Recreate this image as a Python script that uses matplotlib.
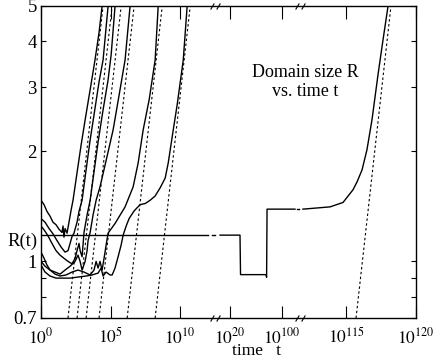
import numpy as np
import matplotlib
matplotlib.use("Agg")
import matplotlib.pyplot as plt
from matplotlib.ticker import FixedLocator, NullFormatter
from matplotlib.path import Path
import matplotlib.transforms as mtransforms

plt.rcParams['font.family'] = ['Liberation Serif', 'DejaVu Serif']
plt.rcParams['mathtext.fontset'] = 'stix'

# ---- data: x = log10(time), y = R ----
c1_x = [0, 0.22, 0.43, 0.65, 0.86, 1.08, 1.29, 1.51, 1.58, 1.65, 1.73, 1.87, 2.01, 2.16, 2.30, 2.59, 2.88, 3.17, 3.53, 3.88, 4.17, 4.39]
c1_y = [1.47, 1.43, 1.37, 1.33, 1.28, 1.26, 1.225, 1.20, 1.25, 1.165, 1.23, 1.195, 1.28, 1.38, 1.47, 1.75, 2.08, 2.44, 2.95, 3.56, 4.23, 5.0]

c2_x = [0, 0.29, 0.58, 0.86, 1.15, 1.44, 1.73, 1.94, 2.09, 2.23, 2.37, 2.59, 2.73, 2.95, 3.24, 3.53, 3.81, 4.17, 4.46, 4.82]
c2_y = [1.31, 1.28, 1.23, 1.19, 1.14, 1.095, 1.06, 1.07, 1.12, 1.17, 1.195, 1.28, 1.37, 1.47, 1.78, 2.15, 2.52, 3.10, 3.56, 5.0]

c3_x = [0, 0.22, 0.50, 0.79, 1.08, 1.37, 1.65, 1.94, 2.23, 2.45, 2.59, 2.73, 2.81, 2.95, 3.02, 3.09, 3.31, 3.53, 3.81, 4.10, 4.46, 4.82, 5.04, 5.32]
c3_y = [1.25, 1.22, 1.175, 1.12, 1.07, 1.04, 1.02, 1.00, 0.985, 1.02, 1.07, 1.12, 1.07, 1.03, 1.11, 1.20, 1.34, 1.47, 1.76, 2.12, 2.60, 3.14, 3.68, 5.0]

c4_x = [0, 0.29, 0.65, 1.01, 1.37, 1.73, 2.09, 2.45, 2.66, 2.81, 2.95, 3.17, 3.31, 3.38, 3.53, 3.74, 3.96, 4.24, 4.68, 5.18, 5.61, 6.04, 6.40]
c4_y = [1.0, 0.97, 0.947, 0.935, 0.923, 0.947, 0.97, 1.0, 1.04, 1.0, 0.947, 1.0, 1.07, 1.14, 1.20, 1.34, 1.47, 1.60, 1.89, 2.29, 2.85, 3.56, 5.0]

c5_x = [0, 0.22, 0.43, 0.65, 1.01, 1.37, 1.80, 2.23, 2.66, 3.09, 3.53, 3.81, 3.96, 4.10, 4.24, 4.39, 4.53, 4.68, 4.82, 5.32, 6.04, 6.62, 6.98, 7.34, 7.77, 8.20, 8.42]
c5_y = [1.06, 1.02, 0.977, 0.947, 0.923, 0.912, 0.918, 0.935, 0.947, 0.935, 0.918, 0.947, 1.0, 0.959, 1.0, 0.947, 1.02, 1.11, 1.195, 1.27, 1.41, 1.60, 1.86, 2.29, 2.77, 3.56, 5.0]

c6_x = [0, 0.29, 0.65, 1.08, 1.51, 2.09, 2.66, 3.24, 3.67, 4.10, 4.32, 4.46, 4.68, 4.96, 5.11, 5.32, 5.54, 5.76, 5.90, 6.12, 6.33, 6.69, 7.12, 7.48, 7.84, 8.20, 8.56, 8.92, 9.14, 9.50, 9.78, 10.22, 10.50]
c6_y = [0.977, 0.935, 0.912, 0.90, 0.90, 0.90, 0.906, 0.912, 0.918, 0.929, 0.959, 0.912, 0.935, 0.918, 0.918, 0.959, 1.03, 1.11, 1.18, 1.25, 1.31, 1.375, 1.43, 1.44, 1.47, 1.51, 1.59, 1.69, 1.86, 2.29, 2.68, 3.56, 5.0]

# long-lived run (pieces separated at the axis breaks)
c7a_x = [0, 12.0]
c7a_y = [1.18, 1.18]
c7b_x = [12.28, 12.5]
c7b_y = [1.18, 1.18]
c7c_x = [15.0, 35.4, 36.2, 75.4, 76.3, 77.0, 108.45]
c7c_y = [1.18, 1.18, 0.92, 0.92, 0.905, 1.39, 1.39]
c7d_x = [109.75, 111.05]
c7d_y = [1.39, 1.39]
c7e_x = [111.91, 113.85, 114.78, 115.49, 115.78, 116.14, 116.49, 116.85, 117.28, 117.64, 118.0]
c7e_y = [1.39, 1.41, 1.45, 1.57, 1.65, 1.78, 2.02, 2.44, 3.24, 4.04, 5.0]

solid_x = [c1_x, c2_x, c3_x, c4_x, c5_x, c6_x, c7a_x, c7b_x, c7c_x, c7d_x, c7e_x]
solid_y = [c1_y, c2_y, c3_y, c4_y, c5_y, c6_y, c7a_y, c7b_y, c7c_y, c7d_y, c7e_y]

# t^(1/3) reference lines: log10 t where R = 0.7 and where R = 5
dash_start = [1.94, 2.59, 3.24, 4.17, 6.19, 8.20, 115.71]
dash_end = [4.46, 5.11, 5.76, 6.69, 8.71, 10.72, 118.21]
dash_R = [0.7, 5.0]

xtick_exp = [0, 5, 10, 20, 100, 115, 120]
xtick_labels = [r'$10^{%d}$' % v for v in xtick_exp]
ytick_vals = [0.7, 1, 2, 3, 4, 5]
ytick_labels = ['0.7', '1', '2', '3', '4', '5']
yminor_vals = [0.8, 0.9]

# ---- broken x-axis (piecewise-linear in log10 t) ----
KX = [0, 12.5, 20, 100, 111.7, 120]
KP = [41, 215, 230, 282, 300, 416]
def fwd(e):
    return np.interp(e, KX, KP)
def inv(p):
    return np.interp(p, KP, KX)

fig = plt.figure(figsize=(4.37, 3.6), dpi=100)
ax = fig.add_axes([41/437, 1-318/360, (416-41)/437, (318-6)/360])
ax.set_xscale('function', functions=(fwd, inv))
ax.set_yscale('log')
ax.set_xlim(0, 120)
ax.set_ylim(0.7, 5)

for xs, ys in zip(solid_x, solid_y):
    ax.plot(xs, ys, color='black', lw=1.0, solid_joinstyle='round')
for s, e in zip(dash_start, dash_end):
    ax.plot([s, e], dash_R, color='black', lw=0.8, linestyle=(0, (2.2, 2.2)))

ax.set_xticks(xtick_exp)
ax.set_xticklabels(xtick_labels)
ax.xaxis.set_minor_locator(FixedLocator([]))
ax.yaxis.set_major_locator(FixedLocator(ytick_vals))
ax.set_yticklabels(ytick_labels)
ax.yaxis.set_minor_locator(FixedLocator(yminor_vals))
ax.yaxis.set_minor_formatter(NullFormatter())

ax.tick_params(axis='x', which='major', direction='in', length=9, width=0.8,
               top=True, bottom=True, labelsize=12.5, pad=6.5)
ax.tick_params(axis='y', which='both', direction='in', length=3.5, width=0.8,
               left=True, right=True, labelsize=13.5, pad=3)
for sp in ax.spines.values():
    sp.set_linewidth(1.0)

# axis break marks
brk = Path([(-1.6, -1.0), (-0.4, 1.0), (0.4, -1.0), (1.6, 1.0)],
           [Path.MOVETO, Path.LINETO, Path.MOVETO, Path.LINETO])
trans = mtransforms.blended_transform_factory(ax.transData, ax.transAxes)
for bx in [12.5, 111.7]:
    for by in [0, 1]:
        ax.plot([bx], [by], marker=brk, markersize=7, markeredgewidth=0.8,
                color='black', fillstyle='none', transform=trans, clip_on=False)

ax.text(0.705, 0.755, 'Domain size R\nvs. time t', transform=ax.transAxes,
        ha='center', va='center', fontsize=13, linespacing=1.15)
fig.text(38/437, 1-241/360, 'R(t)', ha='right', va='center', fontsize=13.5)
fig.text(256/437, 1/360, 'time   t', ha='center', va='bottom', fontsize=12.5)

fig.savefig('out.png', dpi=100)
